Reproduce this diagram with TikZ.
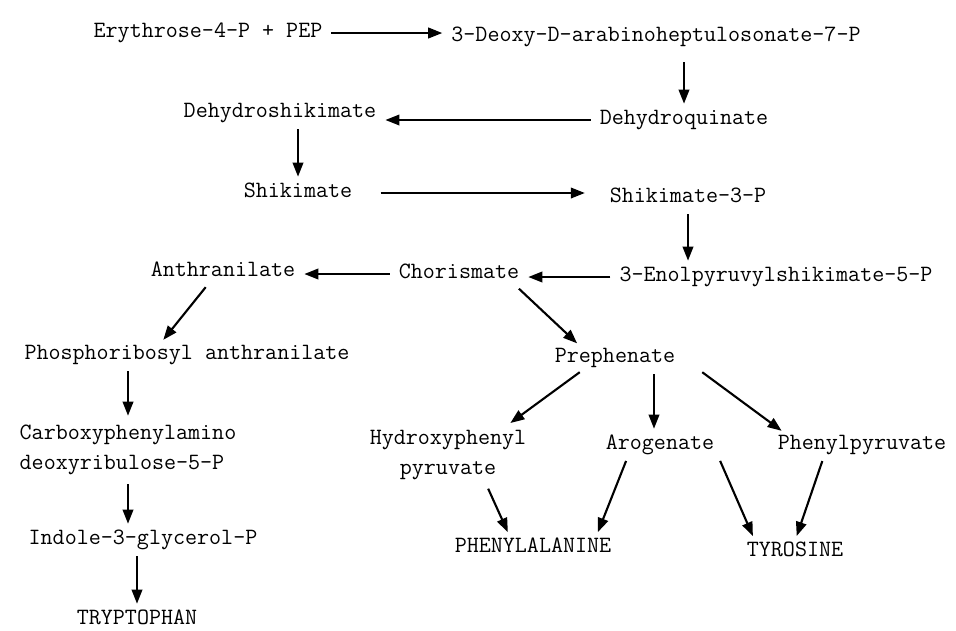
\documentclass[tikz,border=0pt]{standalone}
\usepackage{fontspec}
\usetikzlibrary{arrows.meta}
\tikzset{
	cpd/.style={font=\ttfamily\fontsize{13.3pt}{17.3pt}\selectfont, inner sep=2pt, text height=1.6ex, text depth=.3ex},
	cpdtwo/.style={font=\ttfamily\fontsize{13.3pt}{17.3pt}\selectfont, inner sep=2pt},
	arr/.style={-{Triangle[length=8pt,width=6pt]}, line width=1.2pt, shorten <=3pt, shorten >=3pt}
}
\begin{document}
\begin{tikzpicture}[x=0.02cm,y=-0.02cm]
		\useasboundingbox (0,0) rectangle (956,630);

		\node [cpd] (ery) at (208,33) {Erythrose-4-P + PEP};
		\node [cpd] (deoxy) at (656,37) {3-Deoxy-D-arabinoheptulosonate-7-P};
		\node [cpd] (dehq) at (684,120) {Dehydroquinate};
		\node [cpd] (dehs) at (280,113) {Dehydroshikimate};
		\node [cpd] (shik) at (298,193) {Shikimate};
		\node [cpd] (shikp) at (688,198) {Shikimate-3-P};
		\node [cpd] (enol) at (776,277) {3-Enolpyruvylshikimate-5-P};
		\node [cpd] (chor) at (459,274) {Chorismate};
		\node [cpd] (anth) at (223,272) {Anthranilate};
		\node [cpd] (phos) at (187,355) {Phosphoribosyl anthranilate};
		\node [cpd] (preph) at (615,358) {Prephenate};
		\node [cpdtwo, align=left] (carb) at (128,450) {Carboxyphenylamino\\deoxyribulose-5-P};
		\node [cpd] (indole) at (143,540) {Indole-3-glycerol-P};
		\node [cpd] (tryp) at (137,620) {TRYPTOPHAN};
		\node [cpdtwo, align=center] (hydro) at (448,455) {Hydroxyphenyl\\pyruvate};
		\node [cpd] (arog) at (660,445) {Arogenate};
		\node [cpd] (phen) at (862,445) {Phenylpyruvate};
		\node [cpd] (phe) at (533,548) {PHENYLALANINE};
		\node [cpd] (tyr) at (795,552) {TYROSINE};

		\draw [arr] (ery.east) -- (ery.east -| deoxy.west);
		\draw [arr, shorten <=8pt] (deoxy.south -| dehq.north) -- (dehq.north);
		\draw [arr] (dehq.west) -- (dehq.west -| dehs.east);
		\draw [arr] (dehs.south -| shik.north) -- (shik.north);
		\draw [arr, shorten <=14pt, shorten >=12pt] (shik.east) -- (shik.east -| shikp.west);
		\draw [arr] (shikp.south) -- (shikp.south |- enol.north);
		\draw [arr] (enol.west) -- (enol.west -| chor.east);
		\draw [arr] (chor.west) -- (chor.west -| anth.east);
		\draw [arr] ([xshift=-0.28cm]anth.south) -- ([xshift=-0.54cm]phos.north);
		\draw [arr] ([xshift=-0.16cm]chor.south east) -- ([xshift=0.6cm]preph.north west);
		\draw [arr] (phos.south -| carb.north) -- (carb.north);
		\draw [arr] (carb.south) -- (carb.south |- indole.north);
		\draw [arr] (indole.south -| tryp.north) -- (tryp.north);
		\draw [arr] ([xshift=-0.62cm]preph.south) -- ([xshift=-0.48cm]hydro.north east);
		\draw [arr] ([xshift=0.78cm]preph.south) -- ([xshift=0.78cm]preph.south |- arog.north);
		\draw [arr] ([xshift=1.66cm]preph.south) -- ([xshift=0.24cm]phen.north west);
		\draw [arr] ([xshift=0.76cm]hydro.south) -- ([xshift=-0.46cm]phe.north);
		\draw [arr] ([xshift=-0.64cm]arog.south) -- ([xshift=1.26cm]phe.north);
		\draw [arr] (arog.south east) -- ([xshift=-0.8cm]tyr.north);
		\draw [arr] ([xshift=-0.76cm]phen.south) -- (tyr.north);
	\end{tikzpicture}
\end{document}
